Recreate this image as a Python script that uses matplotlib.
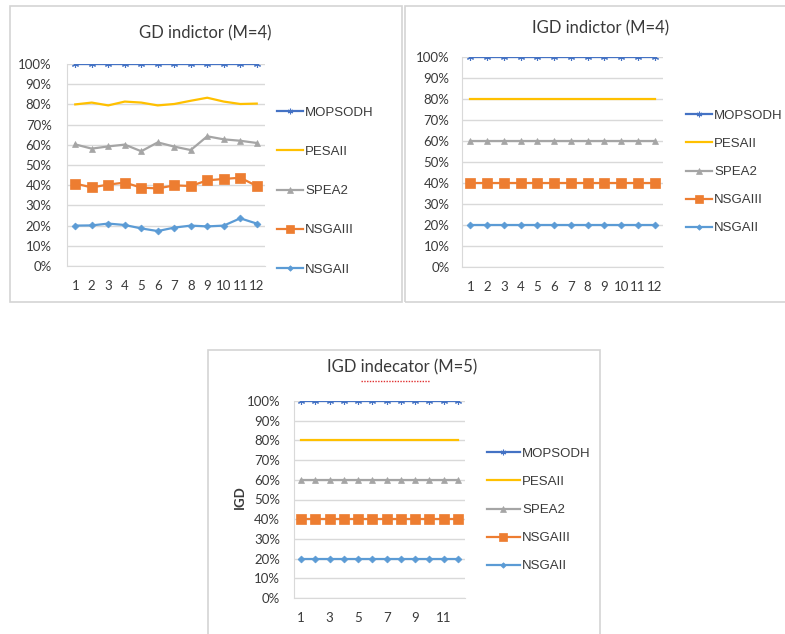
import matplotlib.pyplot as plt
from matplotlib.lines import Line2D
from matplotlib.patches import Rectangle
from matplotlib.ticker import PercentFormatter

W, H = 785, 634

series_names = ["MOPSODH", "PESAII", "SPEA2", "NSGAIII", "NSGAII"]
runs = [1, 2, 3, 4, 5, 6, 7, 8, 9, 10, 11, 12]

# GD indictor (M=4), cumulative % as plotted (100% stacked line)
gd4_mopsodh = [100, 100, 100, 100, 100, 100, 100, 100, 100, 100, 100, 100]
gd4_pesaii = [80.0, 80.9, 79.5, 81.4, 80.9, 79.5, 80.2, 81.8, 83.3, 81.4, 80.2, 80.4]
gd4_spea2 = [60.2, 58.1, 59.2, 60.1, 56.8, 61.2, 59.1, 57.4, 64.2, 62.7, 62.0, 60.9]
gd4_nsgaiii = [40.8, 38.9, 40.3, 41.3, 38.8, 38.4, 39.9, 39.6, 42.4, 43.1, 43.7, 39.6]
gd4_nsgaii = [20.0, 20.1, 21.0, 20.3, 18.6, 17.3, 19.0, 20.0, 19.6, 20.0, 23.6, 21.0]

# IGD indictor (M=4)
igd4_mopsodh = [100, 100, 100, 100, 100, 100, 100, 100, 100, 100, 100, 100]
igd4_pesaii = [80, 80, 80, 80, 80, 80, 80, 80, 80, 80, 80, 80]
igd4_spea2 = [60, 60, 60, 60, 60, 60, 60, 60, 60, 60, 60, 60]
igd4_nsgaiii = [40, 40, 40, 40, 40, 40, 40, 40, 40, 40, 40, 40]
igd4_nsgaii = [20, 20, 20, 20, 20, 20, 20, 20, 20, 20, 20, 20]

# IGD indecator (M=5)
igd5_mopsodh = [100, 100, 100, 100, 100, 100, 100, 100, 100, 100, 100, 100]
igd5_pesaii = [80, 80, 80, 80, 80, 80, 80, 80, 80, 80, 80, 80]
igd5_spea2 = [60, 60, 60, 60, 60, 60, 60, 60, 60, 60, 60, 60]
igd5_nsgaiii = [40, 40, 40, 40, 40, 40, 40, 40, 40, 40, 40, 40]
igd5_nsgaii = [20, 20, 20, 20, 20, 20, 20, 20, 20, 20, 20, 20]

styles = {
    "MOPSODH": dict(color="#4472C4", marker=(6, 2, 0), markersize=5, markeredgewidth=0.8),
    "PESAII": dict(color="#FFC000", marker=None),
    "SPEA2": dict(color="#A5A5A5", marker="^", markersize=5),
    "NSGAIII": dict(color="#ED7D31", marker="s", markersize=6.5),
    "NSGAII": dict(color="#5B9BD5", marker="D", markersize=3.5),
}

plt.rcParams["font.family"] = ["Lato", "DejaVu Sans"]
fig = plt.figure(figsize=(W / 100, H / 100), dpi=100)
TITLE_SIZE = 12


def fx(px):
    return px / W


def fy(py):
    return 1 - py / H


def panel(x0, y0, x1, y1):
    fig.patches.append(Rectangle((fx(x0), fy(y1)), fx(x1 - x0), (y1 - y0) / H,
                                 transform=fig.transFigure, fill=False,
                                 edgecolor="#d4d4d4", lw=1.2))


def chart(box, data, xticks, title, title_xy, leg_x, leg_y, leg_space, handle_len,
          ypad, ylabel=None):
    l, t, r, b = box
    ax = fig.add_axes([fx(l), fy(b), fx(r - l), (b - t) / H])
    for name in series_names:
        st = styles[name]
        ax.plot(runs, data[name], label=name, lw=1.6, color=st["color"],
                marker=st.get("marker"), markersize=st.get("markersize", 4),
                markeredgewidth=st.get("markeredgewidth", 0.5),
                markeredgecolor=st["color"])
    ax.set_xlim(0.5, 12.5)
    ax.set_ylim(0, 100)
    ax.set_yticks(range(0, 101, 10))
    ax.yaxis.set_major_formatter(PercentFormatter(decimals=0))
    ax.set_xticks(xticks)
    ax.tick_params(length=0, labelsize=9.5, colors="#3a3a3a")
    ax.tick_params(axis="y", pad=ypad)
    ax.tick_params(axis="x", pad=10)
    ax.grid(axis="y", color="#d9d9d9", lw=1)
    ax.set_axisbelow(True)
    for s in ["top", "right"]:
        ax.spines[s].set_visible(False)
    for s in ["left", "bottom"]:
        ax.spines[s].set_color("#d9d9d9")
    ttl = fig.text(fx(title_xy[0]), fy(title_xy[1]), title, ha="center", va="center",
                   fontsize=TITLE_SIZE, color="#3a3a3a")
    if ylabel:
        fig.text(fx(240), fy(497), ylabel, rotation=90, ha="center", va="center",
                 fontsize=9.5, fontweight="bold", color="#3a3a3a")
    leg = ax.legend(loc="center left", bbox_to_anchor=(fx(leg_x), fy(leg_y)),
                    bbox_transform=fig.transFigure, frameon=False,
                    prop={"family": "Liberation Sans", "size": 9.5},
                    labelspacing=leg_space, handlelength=handle_len,
                    handletextpad=0.15, borderpad=0, borderaxespad=0,
                    markerscale=0.8)
    for txt in leg.get_texts():
        txt.set_color("#3a3a3a")
    return ttl


panel(10, 6, 402, 302)
panel(405, 6, 790, 302)
panel(208, 350, 600, 640)

chart((67, 64, 265, 266),
      {"MOPSODH": gd4_mopsodh, "PESAII": gd4_pesaii, "SPEA2": gd4_spea2,
       "NSGAIII": gd4_nsgaiii, "NSGAII": gd4_nsgaii},
      runs, "GD indictor (M=4)", (205, 33), 277, 191, 2.05, 2.0, 11)

chart((462, 57, 663, 267),
      {"MOPSODH": igd4_mopsodh, "PESAII": igd4_pesaii, "SPEA2": igd4_spea2,
       "NSGAIII": igd4_nsgaiii, "NSGAII": igd4_nsgaii},
      runs, "IGD indictor (M=4)", (601, 28), 686, 172, 1.2, 2.0, 9)

ttl5 = chart((294, 401, 465, 598),
             {"MOPSODH": igd5_mopsodh, "PESAII": igd5_pesaii, "SPEA2": igd5_spea2,
              "NSGAIII": igd5_nsgaiii, "NSGAII": igd5_nsgaii},
             [1, 3, 5, 7, 9, 11], "IGD indecator (M=5)", (402, 367), 487, 510, 1.2, 2.5, 10,
             ylabel="IGD")

# red spell-check underline under the word "indecator"
renderer = fig.canvas.get_renderer()
full = ttl5.get_window_extent(renderer)


def text_width(s):
    tmp = fig.text(0, 0, s, fontsize=TITLE_SIZE)
    w = tmp.get_window_extent(renderer).width
    tmp.remove()
    return w


x_start = full.x0 + text_width("IGD ")
x_end = full.x0 + text_width("IGD indecator")
fig.add_artist(Line2D([x_start / fig.bbox.width, x_end / fig.bbox.width],
                      [fy(381), fy(381)], transform=fig.transFigure,
                      color="#e03030", lw=1, linestyle=(0, (1, 1))))

fig.savefig("out.png", dpi=100)
